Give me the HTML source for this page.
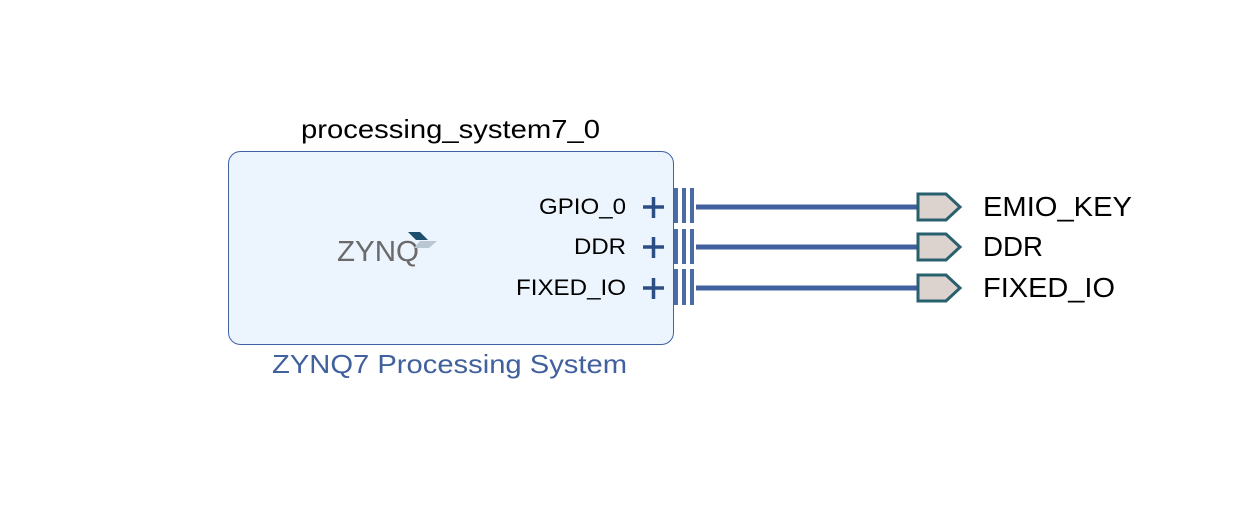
<!DOCTYPE html>
<html><head><style>
body{margin:0;background:#fff;}
</style></head><body>
<svg width="1253" height="512" xmlns="http://www.w3.org/2000/svg" font-family="Liberation Sans, Arial, sans-serif">
<rect x="0" y="0" width="1253" height="512" fill="#fff"/>
<text x="301" y="138" font-size="26" fill="#000" textLength="299" lengthAdjust="spacingAndGlyphs">processing_system7_0</text>
<rect x="228.5" y="151.5" width="445" height="193" rx="12" fill="#ecf4fd" stroke="#3f62a0" stroke-width="1"/>
<text x="272" y="373" font-size="26" fill="#40609e" textLength="355" lengthAdjust="spacingAndGlyphs">ZYNQ7 Processing System</text>
<text x="337" y="261" font-size="29" fill="#6a6a6a" textLength="82" lengthAdjust="spacingAndGlyphs">ZYNQ</text>
<polygon points="408,232 420,232 428,240 416,240" fill="#1c4f6e"/>
<polygon points="420,241 437,241 429,248 414,248" fill="#b9c7d3"/>
<g font-size="22" fill="#000">
<text x="539" y="214" textLength="87" lengthAdjust="spacingAndGlyphs">GPIO_0</text>
<text x="574" y="254" textLength="52" lengthAdjust="spacingAndGlyphs">DDR</text>
<text x="516" y="295" textLength="110" lengthAdjust="spacingAndGlyphs">FIXED_IO</text>
</g>
<g stroke="#2d4e85" stroke-width="3.5">
<line x1="643" y1="207" x2="664" y2="207"/><line x1="653.5" y1="197" x2="653.5" y2="218"/>
<line x1="643" y1="247" x2="664" y2="247"/><line x1="653.5" y1="237" x2="653.5" y2="258"/>
<line x1="643" y1="288" x2="664" y2="288"/><line x1="653.5" y1="278" x2="653.5" y2="299"/>
</g>
<g fill="#4a6ba6">
<rect x="674" y="188" width="4" height="35"/><rect x="682" y="188" width="4" height="35"/><rect x="690" y="188" width="4" height="35"/>
<rect x="674" y="229" width="4" height="35"/><rect x="682" y="229" width="4" height="35"/><rect x="690" y="229" width="4" height="35"/>
<rect x="674" y="269" width="4" height="36"/><rect x="682" y="269" width="4" height="36"/><rect x="690" y="269" width="4" height="36"/>
</g>
<g stroke="#40609e" stroke-width="5">
<line x1="696" y1="207" x2="918" y2="207"/>
<line x1="696" y1="247" x2="918" y2="247"/>
<line x1="696" y1="288" x2="918" y2="288"/>
</g>
<g fill="#dcd3cf" stroke="#29606e" stroke-width="3">
<polygon points="918,194 946,194 960,207 946,220 918,220"/>
<polygon points="918,234 946,234 960,247 946,260 918,260"/>
<polygon points="918,275 946,275 960,288 946,301 918,301"/>
</g>
<g font-size="28" fill="#000">
<text x="983" y="216" textLength="149" lengthAdjust="spacingAndGlyphs">EMIO_KEY</text>
<text x="983" y="256" textLength="60" lengthAdjust="spacingAndGlyphs">DDR</text>
<text x="983" y="297" textLength="132" lengthAdjust="spacingAndGlyphs">FIXED_IO</text>
</g>
</svg>
</body></html>
